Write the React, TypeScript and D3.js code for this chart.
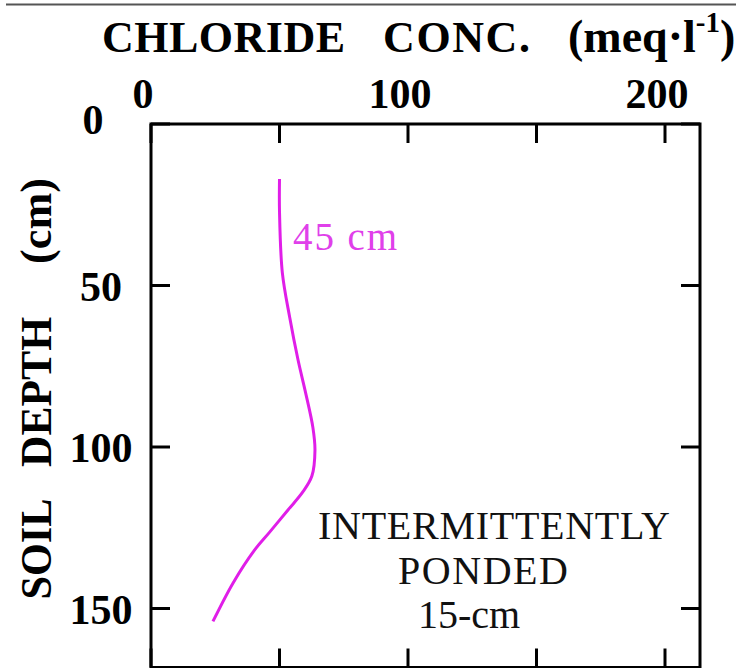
import React from "react";
import * as d3 from "d3";

// Chloride concentration profile (meq/l) against soil depth (cm)
const depthCm = [17, 27, 46, 60, 73, 83, 94, 101, 109, 114, 119.5, 126.5, 132, 142, 154];
const chlorideMeq = [50, 50, 51.1, 54, 57.2, 60.1, 63, 63.8, 62.6, 59, 53.3, 46, 40.2, 32, 24.1];

const xTickValues = [0, 50, 100, 150, 200];
const xTickLabels = ["0", "100", "200"];
const yTickValues = [0, 50, 100, 150];

const W = 743;
const H = 668;
const FONT = "'Liberation Serif', 'DejaVu Serif', serif";
const MAGENTA = "#e01ee8";

export default function App() {
  const x = d3.scaleLinear().domain([0, 200]).range([151, 665]);
  const y = d3.scaleLinear().domain([0, 150]).range([124, 608.5]);
  const left = x(0);
  const right = 700;
  const top = y(0);
  const bottom = 667.5;
  const tickLen = 19;

  const points = depthCm.map((d, i) => [chlorideMeq[i], d] as [number, number]);
  const line = d3
    .line<[number, number]>()
    .x((p) => x(p[0]))
    .y((p) => y(p[1]))
    .curve(d3.curveCatmullRom.alpha(0.5));

  return (
    <svg
      width={W}
      height={H}
      style={{ position: "absolute", left: 0, top: 0, background: "#fff" }}
      fontFamily={FONT}
    >
      <line x1={6} x2={736} y1={4.5} y2={4.5} stroke="#555" strokeWidth={2} />

      {/* title */}
      <g fontSize={44} fontWeight="bold" fill="#000">
        <text x={102} y={52} textLength={243}>CHLORIDE</text>
        <text x={383} y={52} textLength={147}>CONC.</text>
        <text x={568} y={52} fontSize={46}>
          (meq·l
          <tspan fontSize={29} dy={-20}>-1</tspan>
          <tspan dy={20}>)</tspan>
        </text>
      </g>

      {/* top axis labels */}
      <g fontSize={42} fontWeight="bold" textAnchor="middle">
        {xTickLabels.map((t) => (
          <text key={t} x={x(+t) - 8} y={108}>{t}</text>
        ))}
      </g>

      {/* depth labels */}
      <g fontSize={42} fontWeight="bold" textAnchor="middle">
        {yTickValues.map((v) => (
          <text key={v} x={v === 0 ? 93 : 101} y={y(v) + (v === 0 ? 10 : 15)}>{v}</text>
        ))}
      </g>

      {/* depth axis title */}
      <g fontSize={44} fontWeight="bold" textAnchor="middle">
        {[
          ["SOIL", 549, 101],
          ["DEPTH", 392, 150],
          ["(cm)", 221, 86],
        ].map(([t, cy, len]) => (
          <text
            key={t as string}
            x={51}
            y={cy as number}
            textLength={len as number}
            lengthAdjust="spacingAndGlyphs"
            transform={`rotate(-90, 51, ${cy})`}
          >
            {t}
          </text>
        ))}
      </g>

      {/* frame */}
      <rect
        x={left}
        y={top}
        width={right - left}
        height={bottom - top}
        fill="none"
        stroke="#000"
        strokeWidth={3}
      />
      <g stroke="#000" strokeWidth={3}>
        {xTickValues.map((v) => (
          <g key={"xt" + v}>
            <line x1={x(v)} x2={x(v)} y1={top} y2={top + tickLen} />
            <line x1={x(v)} x2={x(v)} y1={bottom} y2={bottom - tickLen} />
          </g>
        ))}
        {yTickValues.map((v) => (
          <g key={"yt" + v}>
            <line x1={left} x2={left + tickLen} y1={y(v)} y2={y(v)} />
            <line x1={right} x2={right - tickLen} y1={y(v)} y2={y(v)} />
          </g>
        ))}
      </g>

      {/* profile */}
      <path d={line(points) ?? ""} fill="none" stroke={MAGENTA} strokeWidth={3} />
      <text x={293} y={250} fontSize={39} fill="#e040ea" textLength={104}>45 cm</text>

      {/* treatment annotation */}
      <g fontSize={40} textAnchor="middle" fill="#111">
        <text x={494} y={539} textLength={352}>INTERMITTENTLY</text>
        <text x={483} y={584} textLength={170}>PONDED</text>
        <text x={469} y={628} textLength={102}>15-cm</text>
      </g>
    </svg>
  );
}
